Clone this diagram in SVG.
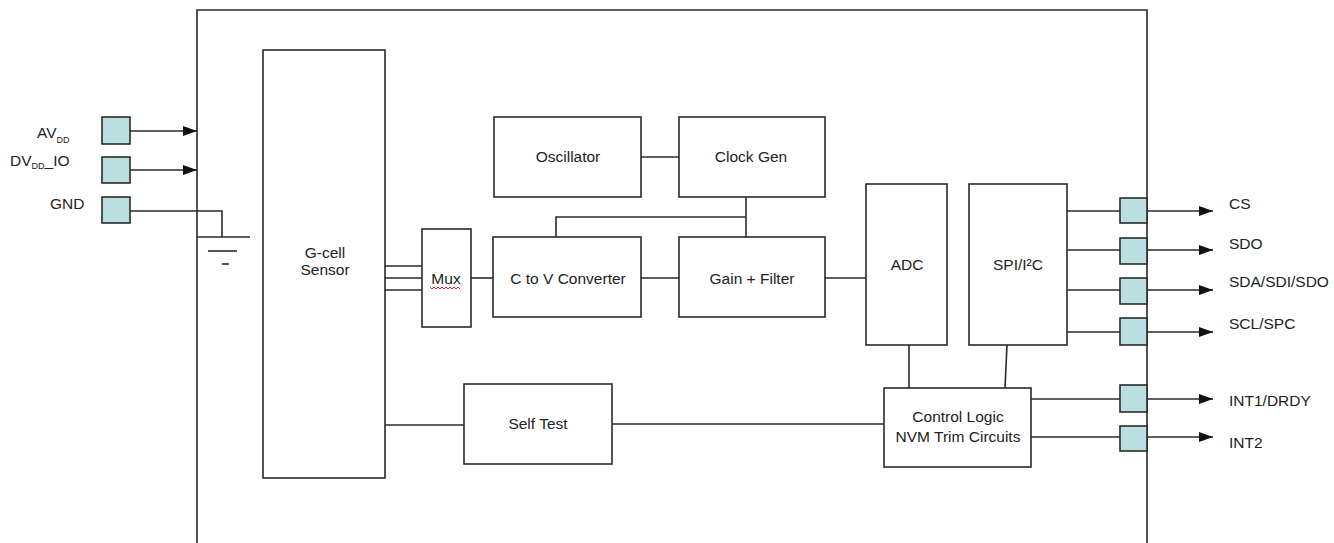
<svg xmlns="http://www.w3.org/2000/svg" width="1334" height="543" viewBox="0 0 1334 543">
<style>
.box{fill:#fff;stroke:#2a2a2a;stroke-width:1.6}
.pad{fill:#b9dfe0;stroke:#2a2a2a;stroke-width:1.6}
.ln{fill:none;stroke:#2a2a2a;stroke-width:1.6}
.t{font-family:"Liberation Sans",Arial,sans-serif;font-size:15.5px;fill:#222;text-anchor:middle}
.l{font-family:"Liberation Sans",Arial,sans-serif;font-size:15.5px;fill:#222}
.sub{font-size:9px}
</style>
<defs>
<marker id="arr" markerUnits="userSpaceOnUse" markerWidth="15" markerHeight="11" refX="14" refY="5" orient="auto">
<path d="M0,0 L14,5 L0,10 z" fill="#111"/>
</marker>
</defs>
<rect width="1334" height="543" fill="#fff"/>
<g id="chip">
<path class="ln" d="M197,543 V10 H1147 V543" stroke-width="2"/>
</g>
<g id="connectors">
<line class="ln" x1="130" y1="131" x2="197" y2="131" marker-end="url(#arr)"/>
<line class="ln" x1="130" y1="170" x2="197" y2="170" marker-end="url(#arr)"/>
<path class="ln" d="M130,211 H222 V237"/>
<line class="ln" x1="197" y1="237" x2="250" y2="237"/>
<line class="ln" x1="208" y1="251" x2="237" y2="251"/>
<line class="ln" x1="222" y1="264" x2="229" y2="264"/>
<line class="ln" x1="385" y1="266" x2="422" y2="266"/>
<line class="ln" x1="385" y1="278" x2="422" y2="278"/>
<line class="ln" x1="385" y1="290" x2="422" y2="290"/>
<line class="ln" x1="471" y1="278" x2="493" y2="278"/>
<line class="ln" x1="641" y1="278" x2="679" y2="278"/>
<line class="ln" x1="825" y1="278" x2="866" y2="278"/>
<line class="ln" x1="641" y1="157" x2="679" y2="157"/>
<line class="ln" x1="746" y1="197" x2="746" y2="237"/>
<path class="ln" d="M556,237 V217 H746"/>
<line class="ln" x1="909" y1="345" x2="909" y2="388"/>
<line class="ln" x1="1007" y1="345" x2="1005" y2="388"/>
<line class="ln" x1="385" y1="425" x2="464" y2="425"/>
<line class="ln" x1="612" y1="424" x2="884" y2="424"/>
<line class="ln" x1="1067" y1="211" x2="1120" y2="211"/>
<line class="ln" x1="1067" y1="250" x2="1120" y2="250"/>
<line class="ln" x1="1067" y1="290" x2="1120" y2="290"/>
<line class="ln" x1="1067" y1="332" x2="1120" y2="332"/>
<line class="ln" x1="1031" y1="399" x2="1120" y2="399"/>
<line class="ln" x1="1031" y1="437" x2="1120" y2="437"/>
<line class="ln" x1="1147" y1="211" x2="1213" y2="211" marker-end="url(#arr)"/>
<line class="ln" x1="1147" y1="250" x2="1213" y2="250" marker-end="url(#arr)"/>
<line class="ln" x1="1147" y1="290" x2="1213" y2="290" marker-end="url(#arr)"/>
<line class="ln" x1="1147" y1="332" x2="1213" y2="332" marker-end="url(#arr)"/>
<line class="ln" x1="1147" y1="399" x2="1213" y2="399" marker-end="url(#arr)"/>
<line class="ln" x1="1147" y1="437" x2="1213" y2="437" marker-end="url(#arr)"/>
</g>
<g id="pad-avdd"><rect class="pad" x="102" y="117" width="28" height="27"/>
<text class="l" x="37" y="138">AV<tspan class="sub" dy="5">DD</tspan></text></g>
<g id="pad-dvdd"><rect class="pad" x="102" y="157" width="28" height="26"/>
<text class="l" x="10" y="166">DV<tspan class="sub" dy="3">DD</tspan><tspan dy="-3">_IO</tspan></text></g>
<g id="pad-gnd"><rect class="pad" x="102" y="197" width="28" height="26"/>
<text class="l" x="50" y="209">GND</text></g>
<g id="gcell"><rect class="box" x="263" y="50" width="122" height="428"/>
<text class="t" x="325" y="258">G-cell</text><text class="t" x="325" y="275">Sensor</text></g>
<g id="mux"><rect class="box" x="422" y="229" width="49" height="98"/>
<text class="t" x="446" y="284">Mux</text>
<path d="M430,287 l2,2 l2,-2 l2,2 l2,-2 l2,2 l2,-2 l2,2 l2,-2 l2,2 l2,-2 l2,2 l2,-2 l2,2 l2,-2 l2,2" fill="none" stroke="#e02020" stroke-width="1"/></g>
<g id="oscillator"><rect class="box" x="494" y="117" width="147" height="80"/>
<text class="t" x="568" y="162">Oscillator</text></g>
<g id="clockgen"><rect class="box" x="679" y="117" width="146" height="80"/>
<text class="t" x="751" y="162">Clock Gen</text></g>
<g id="ctov"><rect class="box" x="493" y="237" width="148" height="80"/>
<text class="t" x="568" y="284">C to V Converter</text></g>
<g id="gain"><rect class="box" x="679" y="237" width="146" height="80"/>
<text class="t" x="752" y="284">Gain + Filter</text></g>
<g id="adc"><rect class="box" x="866" y="184" width="81" height="161"/>
<text class="t" x="907" y="270">ADC</text></g>
<g id="spi"><rect class="box" x="969" y="184" width="98" height="161"/>
<text class="t" x="1018" y="270">SPI/I²C</text></g>
<g id="selftest"><rect class="box" x="464" y="384" width="148" height="80"/>
<text class="t" x="538" y="429">Self Test</text></g>
<g id="control"><rect class="box" x="884" y="388" width="147" height="79"/>
<text class="t" x="958" y="422">Control Logic</text><text class="t" x="958" y="442">NVM Trim Circuits</text></g>
<g id="pad-cs"><rect class="pad" x="1120" y="198" width="27" height="25"/><text class="l" x="1229" y="209">CS</text></g>
<g id="pad-sdo"><rect class="pad" x="1120" y="238" width="27" height="26"/><text class="l" x="1229" y="249">SDO</text></g>
<g id="pad-sda"><rect class="pad" x="1120" y="278" width="27" height="26"/><text class="l" x="1229" y="287">SDA/SDI/SDO</text></g>
<g id="pad-scl"><rect class="pad" x="1120" y="318" width="27" height="27"/><text class="l" x="1229" y="329">SCL/SPC</text></g>
<g id="pad-int1"><rect class="pad" x="1120" y="385" width="27" height="27"/><text class="l" x="1229" y="406">INT1/DRDY</text></g>
<g id="pad-int2"><rect class="pad" x="1120" y="426" width="27" height="25"/><text class="l" x="1229" y="448">INT2</text></g>
</svg>
